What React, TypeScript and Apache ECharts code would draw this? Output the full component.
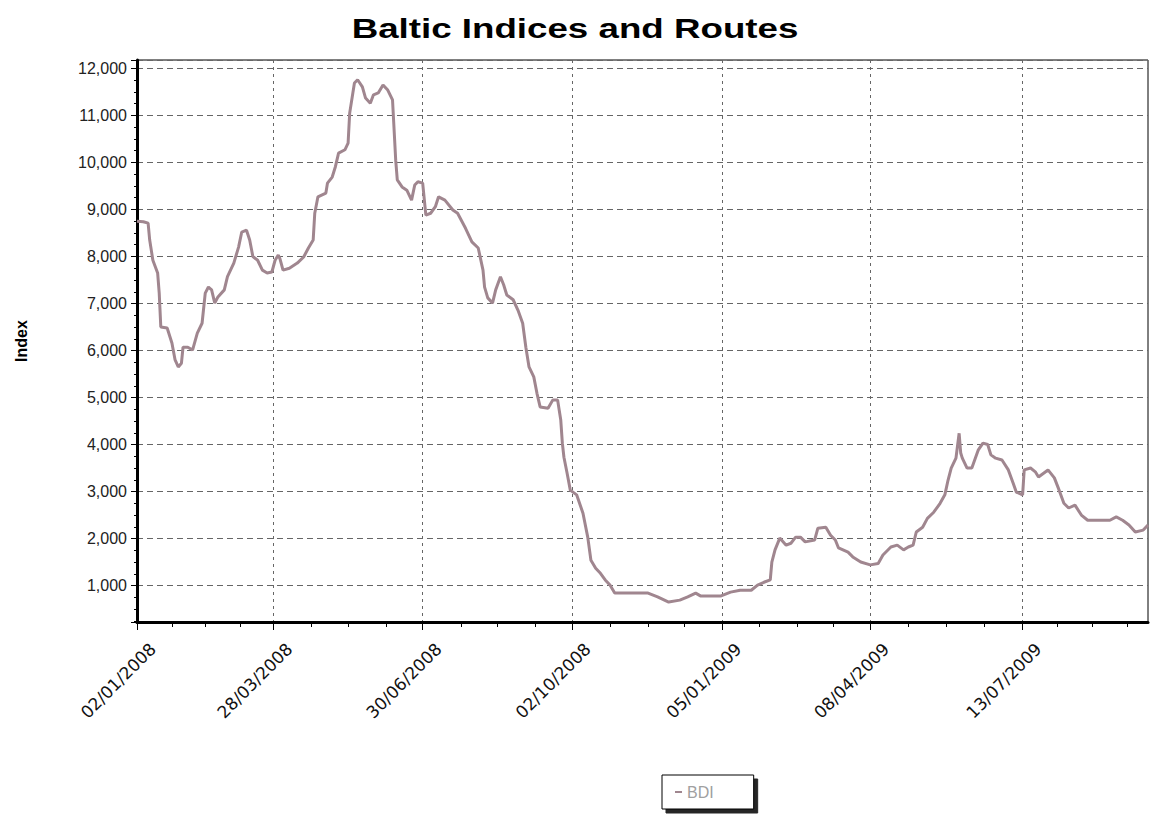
import React, { useEffect, useRef } from "react";
import * as echarts from "echarts";

// ---- data ----
const titleText = "Baltic Indices and Routes";
const seriesName = "BDI";
const yAxisName = "Index";

const majorTickDates = [
  "02/01/2008", "28/03/2008", "30/06/2008", "02/10/2008",
  "05/01/2009", "08/04/2009", "13/07/2009",
];

const bdiDates = [
  "02/01/2008", "06/01/2008", "09/01/2008", "10/01/2008", "12/01/2008", "15/01/2008", "16/01/2008", "17/01/2008",
  "21/01/2008", "24/01/2008", "26/01/2008", "28/01/2008", "30/01/2008", "31/01/2008", "03/02/2008", "06/02/2008",
  "09/02/2008", "12/02/2008", "14/02/2008", "16/02/2008", "18/02/2008", "20/02/2008", "22/02/2008", "26/02/2008",
  "28/02/2008", "03/03/2008", "06/03/2008", "08/03/2008", "11/03/2008", "13/03/2008", "15/03/2008", "18/03/2008",
  "21/03/2008", "24/03/2008", "27/03/2008", "29/03/2008", "31/03/2008", "01/04/2008", "03/04/2008", "07/04/2008",
  "12/04/2008", "16/04/2008", "19/04/2008", "22/04/2008", "23/04/2008", "25/04/2008", "30/04/2008", "01/05/2008",
  "04/05/2008", "06/05/2008", "08/05/2008", "12/05/2008", "14/05/2008", "15/05/2008", "17/05/2008", "18/05/2008",
  "20/05/2008", "23/05/2008", "25/05/2008", "28/05/2008", "30/05/2008", "02/06/2008", "05/06/2008", "08/06/2008",
  "11/06/2008", "13/06/2008", "14/06/2008", "17/06/2008", "20/06/2008", "23/06/2008", "25/06/2008", "27/06/2008",
  "30/06/2008", "02/07/2008", "05/07/2008", "08/07/2008", "10/07/2008", "14/07/2008", "19/07/2008", "22/07/2008",
  "27/07/2008", "31/07/2008", "04/08/2008", "07/08/2008", "08/08/2008", "10/08/2008", "13/08/2008", "15/08/2008",
  "18/08/2008", "20/08/2008", "22/08/2008", "26/08/2008", "29/08/2008", "01/09/2008", "03/09/2008", "05/09/2008",
  "08/09/2008", "10/09/2008", "12/09/2008", "17/09/2008", "20/09/2008", "23/09/2008", "25/09/2008", "26/09/2008",
  "27/09/2008", "29/09/2008", "01/10/2008", "05/10/2008", "09/10/2008", "12/10/2008", "14/10/2008", "17/10/2008",
  "20/10/2008", "23/10/2008", "26/10/2008", "29/10/2008", "19/11/2008", "25/11/2008", "02/12/2008", "09/12/2008",
  "14/12/2008", "19/12/2008", "22/12/2008", "04/01/2009", "10/01/2009", "16/01/2009", "23/01/2009", "27/01/2009",
  "31/01/2009", "04/02/2009", "05/02/2009", "07/02/2009", "10/02/2009", "14/02/2009", "17/02/2009", "20/02/2009",
  "23/02/2009", "26/02/2009", "04/03/2009", "06/03/2009", "11/03/2009", "14/03/2009", "17/03/2009", "19/03/2009",
  "25/03/2009", "28/03/2009", "02/04/2009", "08/04/2009", "13/04/2009", "16/04/2009", "21/04/2009", "25/04/2009",
  "29/04/2009", "02/05/2009", "05/05/2009", "07/05/2009", "11/05/2009", "14/05/2009", "18/05/2009", "22/05/2009",
  "25/05/2009", "27/05/2009", "29/05/2009", "01/06/2009", "03/06/2009", "04/06/2009", "05/06/2009", "08/06/2009",
  "11/06/2009", "15/06/2009", "18/06/2009", "21/06/2009", "23/06/2009", "26/06/2009", "30/06/2009", "04/07/2009",
  "07/07/2009", "09/07/2009", "13/07/2009", "14/07/2009", "18/07/2009", "21/07/2009", "23/07/2009", "29/07/2009",
  "02/08/2009", "05/08/2009", "08/08/2009", "11/08/2009", "15/08/2009", "19/08/2009", "23/08/2009", "06/09/2009",
  "10/09/2009", "14/09/2009", "18/09/2009", "22/09/2009", "27/09/2009", "30/09/2009",
];

const bdiValues = [
  8750, 8740, 8710, 8350, 7920, 7650, 7220, 6500,
  6480, 6160, 5800, 5650, 5730, 6070, 6070, 6010,
  6370, 6580, 7220, 7350, 7290, 7010, 7140, 7290,
  7570, 7860, 8200, 8520, 8560, 8350, 8000, 7920,
  7710, 7650, 7670, 7920, 8030, 7960, 7710, 7750,
  7860, 7990, 8180, 8350, 8920, 9270, 9350, 9560,
  9690, 9910, 10200, 10270, 10410, 11050, 11480, 11690,
  11760, 11610, 11370, 11260, 11440, 11480, 11650, 11540,
  11330, 10050, 9630, 9480, 9410, 9200, 9520, 9590,
  9560, 8880, 8920, 9060, 9270, 9200, 8990, 8920,
  8600, 8310, 8180, 7710, 7350, 7120, 7010, 7290,
  7570, 7400, 7180, 7080, 6860, 6580, 6070, 5650,
  5440, 5090, 4800, 4770, 4950, 4950, 4520, 4030,
  3730, 3390, 3030, 2930, 2540, 2030, 1540, 1370,
  1260, 1120, 1010, 840, 840, 760, 650, 690,
  760, 840, 780, 780, 860, 900, 900, 1010,
  1070, 1120, 1500, 1760, 2010, 1860, 1900, 2030,
  2030, 1930, 1970, 2220, 2240, 2070, 1970, 1800,
  1710, 1610, 1500, 1440, 1470, 1650, 1820, 1860,
  1760, 1820, 1860, 2140, 2240, 2430, 2560, 2750,
  2930, 3240, 3500, 3710, 4240, 3820, 3710, 3500,
  3500, 3880, 4030, 4000, 3780, 3710, 3670, 3460,
  3180, 2990, 2930, 3460, 3500, 3420, 3310, 3460,
  3290, 3030, 2750, 2650, 2710, 2500, 2390, 2390,
  2460, 2390, 2290, 2140, 2180, 2290,
];

// ---- axis domain: every calendar day of the period ----
const firstDay = Date.UTC(2008, 0, 2);
const lastDay = Date.UTC(2009, 8, 30);
const pad2 = (n: number) => (n < 10 ? "0" + n : "" + n);
const categories: string[] = [];
for (let t = firstDay; t <= lastDay; t += 86400000) {
  const d = new Date(t);
  categories.push(pad2(d.getUTCDate()) + "/" + pad2(d.getUTCMonth() + 1) + "/" + d.getUTCFullYear());
}

const majorIdx = majorTickDates.map((d) => categories.indexOf(d));
const majorSet = new Set(majorIdx);
const minorIdx: number[] = [];
for (let i = 0; i < majorIdx.length - 1; i++) {
  const a = majorIdx[i];
  const b = majorIdx[i + 1];
  for (let k = 1; k <= 3; k++) minorIdx.push(Math.round(a + ((b - a) * k) / 4));
}
const lastMajor = majorIdx[majorIdx.length - 1];
for (let k = 1; k <= 3; k++) minorIdx.push(lastMajor + k * 22);
const minorSet = new Set(minorIdx);

// labels are drawn slightly to the right of their tick, as in the reference
const LABEL_SHIFT = 10;
const labelText: Record<string, string> = {};
const labelSet = new Set<number>();
majorIdx.forEach((idx, i) => {
  const pos = idx + LABEL_SHIFT;
  labelSet.add(pos);
  labelText[categories[pos]] = majorTickDates[i];
});

const LINE_COLOR = "#a0868f";
const FONT = "Liberation Sans, Arial, sans-serif";

export default function App() {
  const ref = useRef<HTMLDivElement>(null);

  useEffect(() => {
    if (!ref.current) return;
    const chart = echarts.init(ref.current, undefined, { renderer: "svg" });
    const option: any = {
      animation: false,
      backgroundColor: "#fff",
      graphic: [
        {
          type: "text",
          x: 575,
          y: 29,
          scaleX: 1.36,
          style: {
            text: titleText,
            textAlign: "center",
            textVerticalAlign: "middle",
            font: "bold 27px " + FONT,
            fill: "#000",
          },
        },
      ],
      legend: {
        data: [seriesName],
        left: 662,
        top: 775,
        orient: "horizontal",
        padding: [9, 40, 9, 13],
        itemWidth: 7,
        itemHeight: 2,
        itemGap: 5,
        icon: "rect",
        backgroundColor: "#fff",
        borderColor: "#000",
        borderWidth: 1,
        borderRadius: 0,
        shadowColor: "rgba(0,0,0,0.85)",
        shadowBlur: 1,
        shadowOffsetX: 4,
        shadowOffsetY: 4,
        selectedMode: false,
        textStyle: { color: "#a0a0a0", fontSize: 16, fontFamily: FONT },
      },
      grid: {
        left: 137,
        right: 3,
        top: 60,
        bottom: 192,
        show: true,
        borderColor: "#000",
        borderWidth: 1,
        backgroundColor: "transparent",
        containLabel: false,
      },
      xAxis: [
        {
          type: "category",
          data: categories,
          position: "bottom",
          boundaryGap: false,
          axisLine: { show: true, onZero: false, lineStyle: { color: "#000", width: 3 } },
          axisTick: {
            show: true,
            interval: (index: number) => majorSet.has(index),
            length: 8,
            lineStyle: { color: "#000", width: 1 },
          },
          axisLabel: { show: false },
          splitLine: {
            show: true,
            interval: (index: number) => majorSet.has(index),
            lineStyle: { color: "#666", width: 1, type: [3, 4] },
          },
        },
        {
          type: "category",
          data: categories,
          position: "bottom",
          boundaryGap: false,
          axisLine: { show: false, onZero: false },
          axisTick: {
            show: true,
            interval: (index: number) => minorSet.has(index),
            length: 5,
            lineStyle: { color: "#000", width: 1 },
          },
          axisLabel: { show: false },
          splitLine: { show: false },
        },
        {
          type: "category",
          data: categories,
          position: "bottom",
          boundaryGap: false,
          axisLine: { show: false, onZero: false },
          axisTick: { show: false },
          axisLabel: {
            show: true,
            interval: (index: number) => labelSet.has(index),
            formatter: (value: string) => labelText[value] || "",
            rotate: 45,
            margin: 24,
            fontSize: 17,
            fontFamily: "DejaVu Sans, sans-serif",
            color: "#111",
          },
          splitLine: { show: false },
        },
      ],
      yAxis: {
        type: "value",
        min: 225,
        max: 12180,
        splitNumber: 12,
        name: yAxisName,
        nameLocation: "middle",
        nameGap: 108,
        nameTextStyle: { fontWeight: "bold", fontSize: 16, fontFamily: FONT, color: "#000" },
        axisLine: { show: true, lineStyle: { color: "#000", width: 3 } },
        axisTick: { show: true, length: 6, lineStyle: { color: "#000", width: 1 } },
        minorTick: { show: true, splitNumber: 4, length: 3, lineStyle: { color: "#000", width: 1 } },
        axisLabel: {
          margin: 10,
          fontSize: 16,
          fontFamily: FONT,
          color: "#222",
          formatter: (v: number) => (v % 1000 === 0 ? v.toLocaleString("en-US") : ""),
        },
        splitLine: { show: true, lineStyle: { color: "#666", width: 1, type: [6, 4] } },
      },
      series: [
        {
          name: seriesName,
          type: "line",
          xAxisIndex: 0,
          data: bdiDates.map((d, i) => [d, bdiValues[i]]),
          showSymbol: false,
          symbol: "none",
          lineStyle: { color: LINE_COLOR, width: 3 },
          itemStyle: { color: LINE_COLOR },
        },
      ],
    };
    chart.setOption(option);
    return () => chart.dispose();
  }, []);

  return (
    <div
      ref={ref}
      style={{ position: "absolute", left: 0, top: 0, width: 1151, height: 814, background: "#fff" }}
    />
  );
}
